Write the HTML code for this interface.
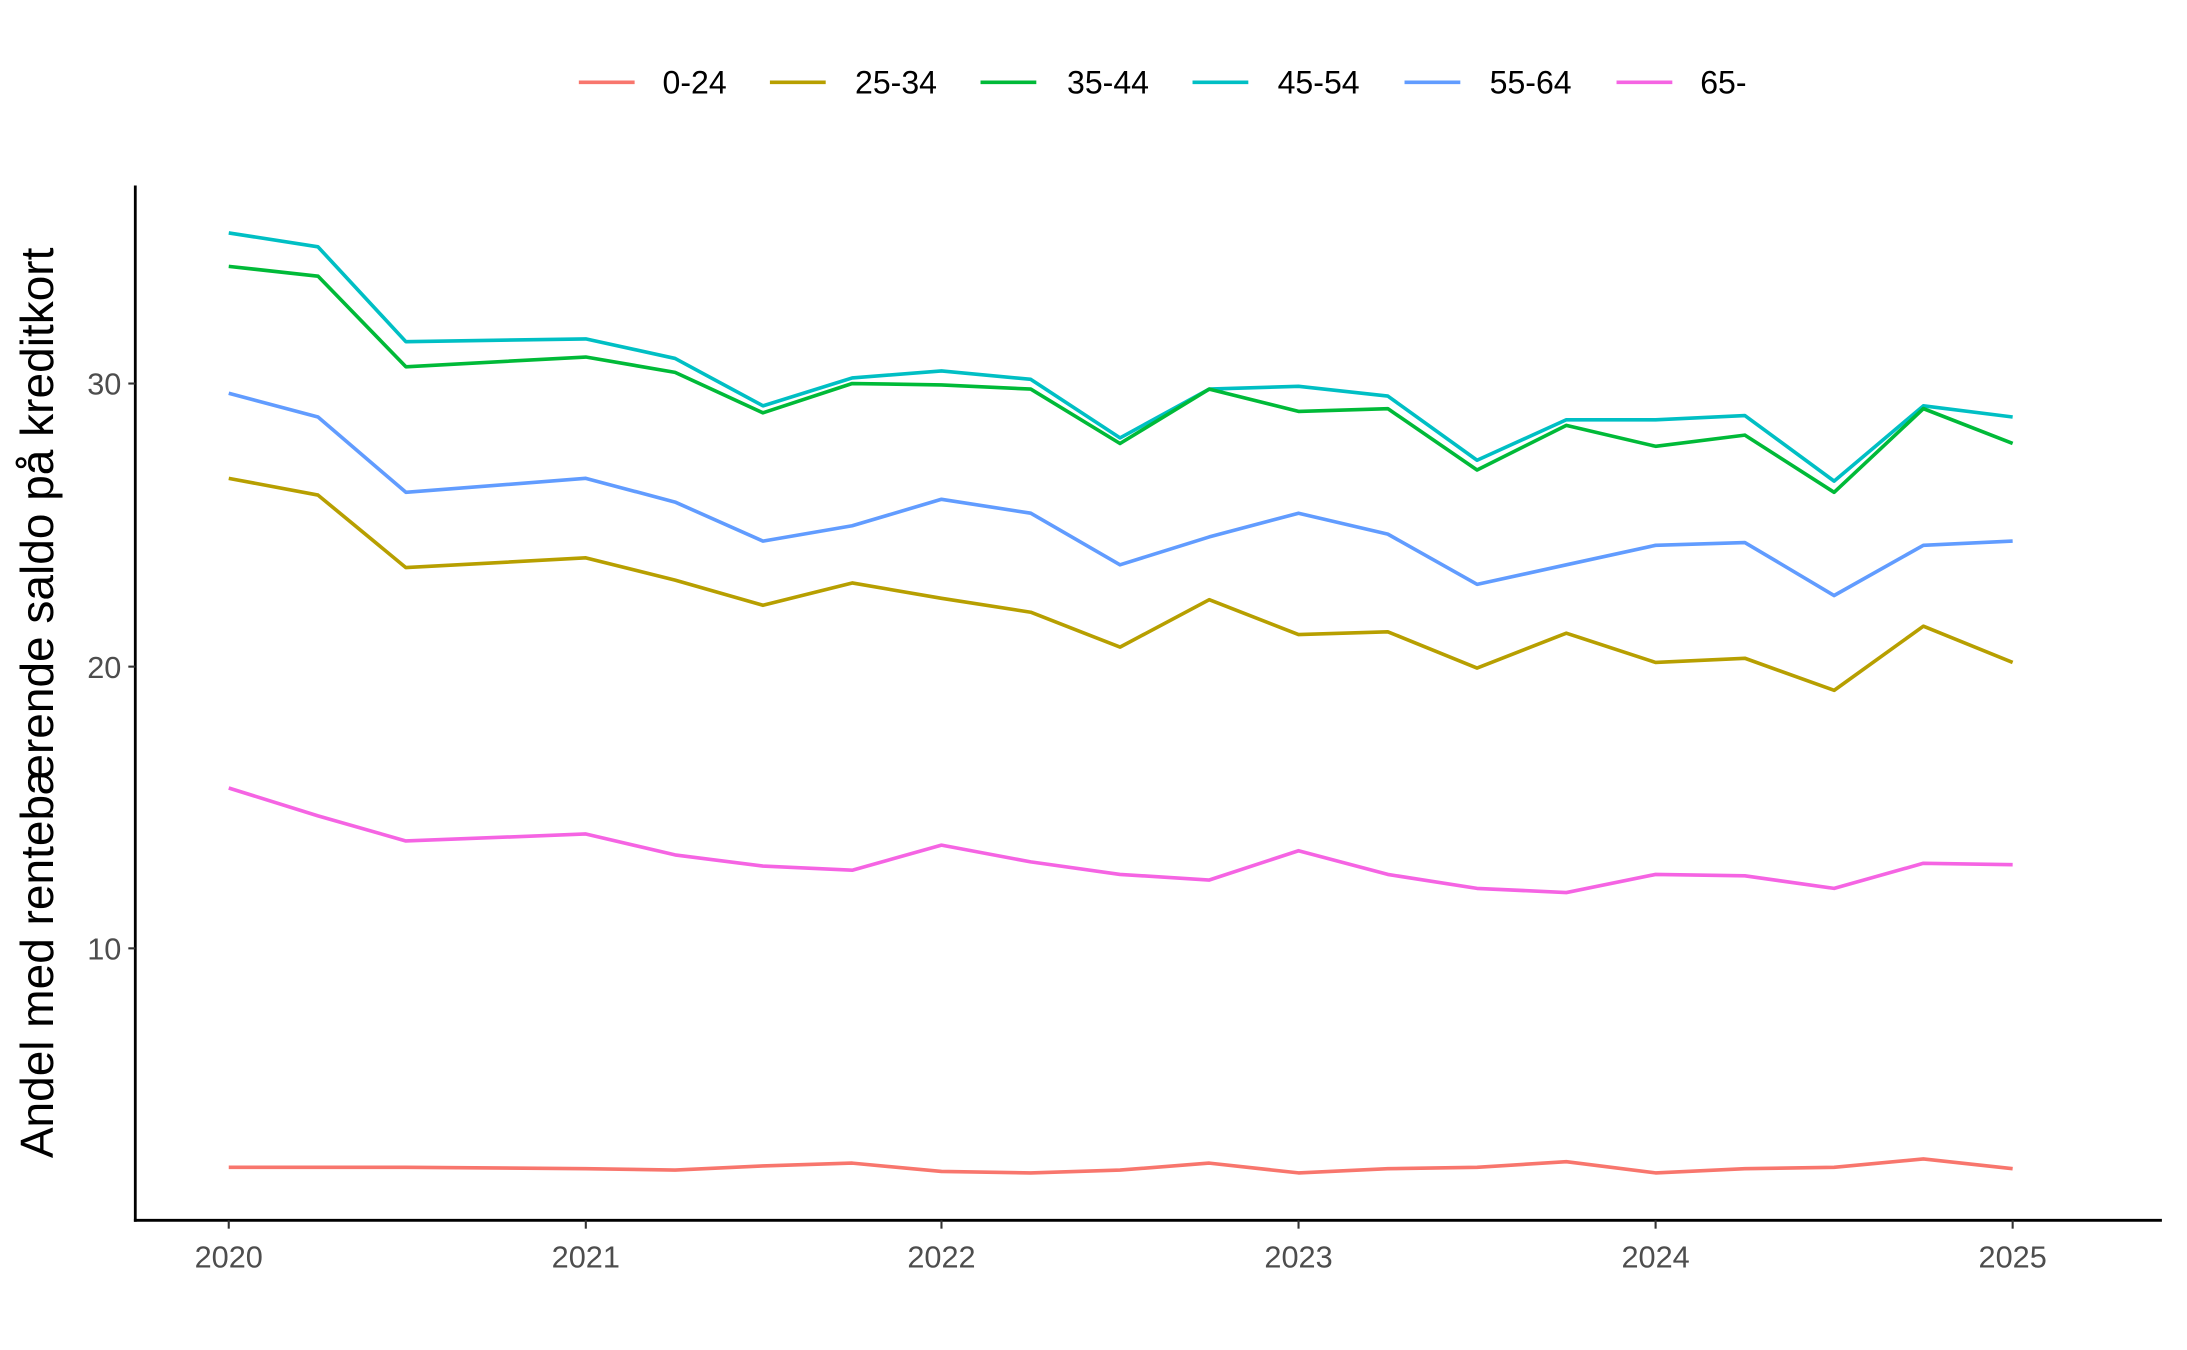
<!DOCTYPE html>
<html><head><meta charset="utf-8"><style>html,body{margin:0;padding:0;background:#fff}svg{display:block}</style></head>
<body>
<svg width="2187" height="1350" viewBox="0 0 1568 968" preserveAspectRatio="none" xmlns="http://www.w3.org/2000/svg" font-family="Liberation Sans, Arial, sans-serif">
<rect width="1568" height="968" fill="#fff"/>
<g fill="none" stroke-width="2.6" stroke-linejoin="round">
<polyline stroke="#00BFC4" points="164,167 228,177 291,245 420,243 484,257 547,291 611,271 675,266 739,272 803,314 867,279 931,277 995,284 1059,330 1123,301 1187,301 1251,298 1315,345 1379,291 1443,299"/>
<polyline stroke="#00BA38" points="164,191 228,198 291,263 420,256 484,267 547,296 611,275 675,276 739,279 803,318 867,279 931,295 995,293 1059,337 1123,305 1187,320 1251,312 1315,353 1379,293 1443,318"/>
<polyline stroke="#619CFF" points="164,282 228,299 291,353 420,343 484,360 547,388 611,377 675,358 739,368 803,405 867,385 931,368 995,383 1059,419 1123,405 1187,391 1251,389 1315,427 1379,391 1443,388"/>
<polyline stroke="#B79F00" points="164,343 228,355 291,407 420,400 484,416 547,434 611,418 675,429 739,439 803,464 867,430 931,455 995,453 1059,479 1123,454 1187,475 1251,472 1315,495 1379,449 1443,475"/>
<polyline stroke="#F564E3" points="164,565 228,585 291,603 420,598 484,613 547,621 611,624 675,606 739,618 803,627 867,631 931,610 995,627 1059,637 1123,640 1187,627 1251,628 1315,637 1379,619 1443,620"/>
<polyline stroke="#F8766D" points="164,837 228,837 291,837 420,838 484,839 547,836 611,834 675,840 739,841 803,839 867,834 931,841 995,838 1059,837 1123,833 1187,841 1251,838 1315,837 1379,831 1443,838"/>
</g>
<g stroke="#000" stroke-width="2">
<line x1="97" y1="133" x2="97" y2="876"/>
<line x1="96" y1="875" x2="1550" y2="875"/>
</g>
<g stroke="#333" stroke-width="1.5">
<line x1="92" y1="275" x2="97" y2="275"/><line x1="92" y1="478" x2="97" y2="478"/><line x1="92" y1="680" x2="97" y2="680"/>
<line x1="164" y1="875" x2="164" y2="881"/><line x1="420" y1="875" x2="420" y2="881"/><line x1="675" y1="875" x2="675" y2="881"/><line x1="931" y1="875" x2="931" y2="881"/><line x1="1187" y1="875" x2="1187" y2="881"/><line x1="1443" y1="875" x2="1443" y2="881"/>
</g>
<g fill="#4d4d4d" font-size="22" text-anchor="end">
<text x="87" y="283">30</text><text x="87" y="486">20</text><text x="87" y="688">10</text>
</g>
<g fill="#4d4d4d" font-size="22" text-anchor="middle">
<text x="164" y="909">2020</text><text x="420" y="909">2021</text><text x="675" y="909">2022</text><text x="931" y="909">2023</text><text x="1187" y="909">2024</text><text x="1443" y="909">2025</text>
</g>
<text transform="translate(38,504) rotate(-90)" font-size="33" text-anchor="middle" fill="#000">Andel med rentebærende saldo på kreditkort</text>
<g stroke-width="2.6">
<line x1="415" y1="59" x2="455" y2="59" stroke="#F8766D"/>
<line x1="552" y1="59" x2="592" y2="59" stroke="#B79F00"/>
<line x1="703" y1="59" x2="743" y2="59" stroke="#00BA38"/>
<line x1="855" y1="59" x2="895" y2="59" stroke="#00BFC4"/>
<line x1="1007" y1="59" x2="1047" y2="59" stroke="#619CFF"/>
<line x1="1159" y1="59" x2="1199" y2="59" stroke="#F564E3"/>
</g>
<g font-size="23" fill="#000">
<text x="475" y="67">0-24</text><text x="613" y="67">25-34</text><text x="765" y="67">35-44</text><text x="916" y="67">45-54</text><text x="1068" y="67">55-64</text><text x="1219" y="67">65-</text>
</g>
</svg>
</body></html>
